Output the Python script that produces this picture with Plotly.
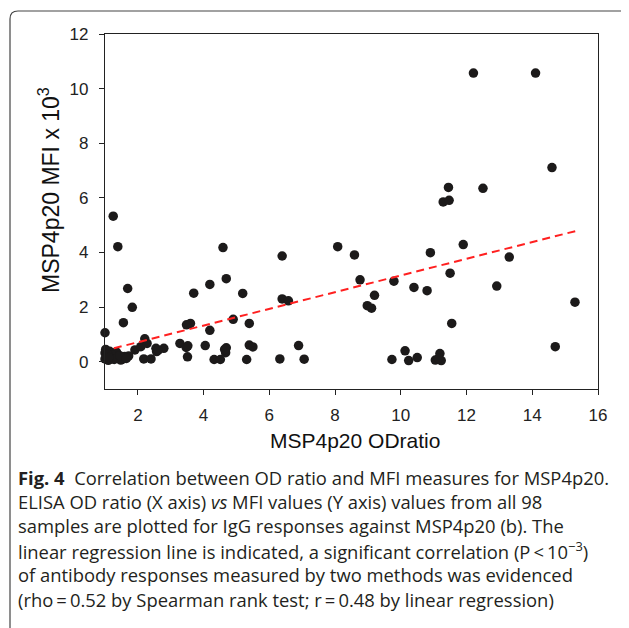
import plotly.graph_objects as go

# ---- data ----
od_ratio = [
    12.21, 14.10, 14.60, 11.45, 12.50, 11.29, 11.47, 1.25, 1.39, 4.59,
    8.08, 11.90, 6.39, 8.59, 10.90, 13.30, 4.69, 8.76, 9.79, 11.50,
    1.69, 4.19, 10.40, 10.80, 12.92, 3.70, 5.19, 6.39, 6.58, 9.20,
    8.98, 9.11, 15.30, 1.83, 4.90, 1.56, 3.48, 3.60, 5.39, 11.55,
    1.00, 4.19, 2.21, 3.28, 3.47, 4.05, 4.69, 5.39, 5.50, 6.89,
    14.70, 10.13, 11.19, 3.51, 4.67, 2.55, 2.79, 2.57, 1.91, 2.09,
    2.28, 1.72,
    2.18, 2.40, 4.32, 4.51, 5.31, 6.32, 7.06, 9.73, 10.24, 10.50, 11.05, 11.23,
    11.15, 4.64,
    1.00, 1.00, 1.05, 1.14, 1.19, 1.24, 1.30, 1.40, 1.55, 1.60,
    1.10, 1.02, 1.35, 1.48, 1.20, 1.08, 1.28,
    1.12, 1.45, 2.62, 3.52, 1.65,
]
mfi_1e3 = [
    10.57, 10.57, 7.11, 6.38, 6.35, 5.85, 5.91, 5.33, 4.21, 4.18,
    4.21, 4.29, 3.87, 3.91, 3.99, 3.83, 3.04, 3.00, 2.95, 3.24,
    2.68, 2.83, 2.72, 2.60, 2.77, 2.51, 2.50, 2.30, 2.23, 2.43,
    2.05, 1.96, 2.18, 1.99, 1.55, 1.43, 1.35, 1.40, 1.40, 1.40,
    1.06, 1.15, 0.84, 0.67, 0.52, 0.59, 0.51, 0.61, 0.54, 0.59,
    0.55, 0.40, 0.30, 0.18, 0.33, 0.49, 0.49, 0.37, 0.43, 0.55,
    0.67, 0.21,
    0.10, 0.10, 0.08, 0.08, 0.08, 0.10, 0.09, 0.08, 0.04, 0.15, 0.06, 0.04,
    0.12, 0.45,
    0.32, 0.10, 0.20, 0.38, 0.10, 0.32, 0.22, 0.13, 0.10, 0.19,
    0.05, 0.45, 0.35, 0.06, 0.25, 0.28, 0.08,
    0.15, 0.22, 0.42, 0.58, 0.12,
]

# regression line (as drawn in the reference)
fit_slope = 0.3056
fit_intercept = 0.102
fit_x_range = [1.27, 15.34]

x_ticks = [2, 4, 6, 8, 10, 12, 14, 16]
y_ticks = [0, 2, 4, 6, 8, 10, 12]

caption_lines = [
    "<b>Fig. 4</b>  Correlation between OD ratio and MFI measures for MSP4p20.",
    "ELISA OD ratio (X axis) <i>vs</i> MFI values (Y axis) values from all 98",
    "samples are plotted for IgG responses against MSP4p20 (b). The",
    "linear regression line is indicated, a significant correlation (P\u2009<\u200910<sup>\u22123</sup>)",
    "of antibody responses measured by two methods was evidenced",
    "(rho\u2009=\u20090.52 by Spearman rank test; r\u2009=\u20090.48 by linear regression)",
]

# ---- geometry (page pixels; the page body adds an 8px offset) ----
OFF = 8
W, H = 629 - OFF, 628 - OFF
PX0, PX1, PY0, PY1 = 105, 598, 34, 389          # plot area in page pixels
ML, MR = PX0 - OFF, OFF + W - PX1
MT, MB = PY0 - OFF, OFF + H - PY1
PW, PH = PX1 - PX0, PY1 - PY0


def px_to_paper_x(px):
    return (px - PX0) / PW


def px_to_paper_y(py):
    return (PY1 - py) / PH


fig = go.Figure()

fig.add_trace(go.Scatter(
    x=od_ratio, y=mfi_1e3, mode="markers", cliponaxis=False,
    marker=dict(color="#1c1a1a", size=9.5, line=dict(width=0)),
    showlegend=False, hoverinfo="x+y",
))

fit_y = [fit_intercept + fit_slope * v for v in fit_x_range]
fig.add_trace(go.Scatter(
    x=fit_x_range, y=fit_y, mode="lines",
    line=dict(color="#ff2020", width=2, dash="8px,5px"),
    showlegend=False, hoverinfo="skip",
))

axis_common = dict(
    showgrid=False, zeroline=False, showline=True, linecolor="#222",
    linewidth=1.3, mirror=True, ticks="outside", ticklen=5, tickcolor="#222",
    tickfont=dict(family="Liberation Sans, Arial", size=17, color="#222"),
)

fig.update_layout(
    width=W, height=H,
    margin=dict(l=ML, r=MR, t=MT, b=MB, pad=0),
    paper_bgcolor="white", plot_bgcolor="white",
    xaxis=dict(range=[1, 16], tickvals=x_ticks, ticklabelstandoff=5, **axis_common),
    yaxis=dict(range=[-1, 12], tickvals=y_ticks, ticklabelstandoff=7, **axis_common),
)

# axis titles
fig.add_annotation(
    text="MSP4p20 ODratio", xref="paper", yref="paper",
    x=px_to_paper_x(355), y=px_to_paper_y(440), xanchor="center", yanchor="middle",
    showarrow=False, font=dict(family="Liberation Sans, Arial", size=21, color="#111"),
)
fig.add_annotation(
    text="MSP4p20 MFI x 10<sup>3</sup>", xref="paper", yref="paper",
    x=px_to_paper_x(49), y=px_to_paper_y(190), xanchor="center", yanchor="middle",
    textangle=-90, showarrow=False,
    font=dict(family="Liberation Sans, Arial", size=23, color="#111"),
)

# caption
cap_y0, cap_dy = 477, 24.4
for i, line in enumerate(caption_lines):
    fig.add_annotation(
        text=line, xref="paper", yref="paper",
        x=px_to_paper_x(16), y=px_to_paper_y(cap_y0 + i * cap_dy),
        xanchor="left", yanchor="middle", showarrow=False, align="left",
        font=dict(family="Open Sans", size=18.4, color="#231f20"),
    )

# rounded frame
fx0, fy0, fx1, fy1, r = 10, 11, 640, 640, 8
path = (
    f"M {px_to_paper_x(fx0)},{px_to_paper_y(fy1)} "
    f"L {px_to_paper_x(fx0)},{px_to_paper_y(fy0 + r)} "
    f"Q {px_to_paper_x(fx0)},{px_to_paper_y(fy0)} {px_to_paper_x(fx0 + r)},{px_to_paper_y(fy0)} "
    f"L {px_to_paper_x(fx1)},{px_to_paper_y(fy0)}"
)
fig.add_shape(type="path", path=path, xref="paper", yref="paper",
              line=dict(color="#444", width=1.2), layer="below")

fig.write_html("out.html")
